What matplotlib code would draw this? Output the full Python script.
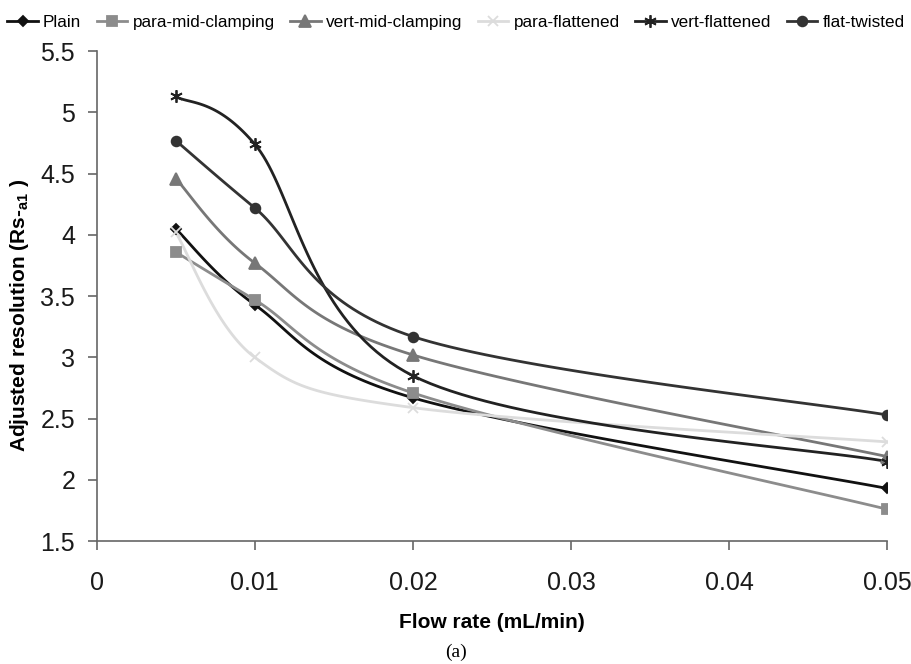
import numpy as np
import matplotlib.pyplot as plt

# flow rate (mL/min) and adjusted resolution per column type
flow = [0.005, 0.01, 0.02, 0.05]
plain = [4.05, 3.43, 2.67, 1.93]
para_mid = [3.86, 3.47, 2.71, 1.76]
vert_mid = [4.46, 3.77, 3.02, 2.19]
para_flat = [4.02, 3.00, 2.59, 2.31]
vert_flat = [5.13, 4.74, 2.85, 2.15]
flat_twisted = [4.77, 4.22, 3.17, 2.53]

names = ['Plain', 'para-mid-clamping', 'vert-mid-clamping',
         'para-flattened', 'vert-flattened', 'flat-twisted']
series = [plain, para_mid, vert_mid, para_flat, vert_flat, flat_twisted]
colors = ['#111111', '#8c8c8c', '#777777', '#dcdcdc', '#222222', '#333333']
markers = ['D', 's', '^', 'x', (6, 2, 0), 'o']
msizes = [5, 7, 8, 7, 9, 7]

XMAX, YMIN, YMAX = 0.05, 1.5, 5.5
W, H = 790.0, 489.0   # plot area in pixels, smoothing done in screen space


def smooth(xs, ys, n=40):
    # excel-like bezier smoothing
    p = np.column_stack([np.array(xs) / XMAX * W, (np.array(ys) - YMIN) / (YMAX - YMIN) * H])
    pts = np.vstack([p[0], p, p[-1]])
    out = []
    t = np.linspace(0, 1, n)[:, None]
    for i in range(1, len(pts) - 2):
        p0, p1, p2, p3 = pts[i - 1], pts[i], pts[i + 1], pts[i + 2]
        c1 = p1 + (p2 - p0) / 6
        c2 = p2 - (p3 - p1) / 6
        seg = (1 - t) ** 3 * p1 + 3 * (1 - t) ** 2 * t * c1 + 3 * (1 - t) * t ** 2 * c2 + t ** 3 * p2
        out.append(seg)
    c = np.vstack(out)
    return c[:, 0] / W * XMAX, c[:, 1] / H * (YMAX - YMIN) + YMIN


plt.rcParams['font.family'] = ['Liberation Sans', 'DejaVu Sans']

fig = plt.figure(figsize=(9.12, 6.64), dpi=100)
ax = fig.add_axes([0.106, 0.185, 0.867, 0.738])

handles = []
for name, ys, c, m, ms in zip(names, series, colors, markers, msizes):
    sx, sy = smooth(flow, ys)
    ax.plot(sx, sy, color=c, lw=2.0, zorder=2)
    ax.plot(flow, ys, ls='none', marker=m, color=c, ms=ms, mew=1.3, zorder=3)
    h, = ax.plot([], [], color=c, lw=2.0, marker=m, ms=ms, mew=1.3)
    handles.append(h)

ax.set_xlim(0, XMAX)
ax.set_ylim(YMIN, YMAX)
ax.set_xticks([0, 0.01, 0.02, 0.03, 0.04, 0.05])
ax.set_xticklabels(['0', '0.01', '0.02', '0.03', '0.04', '0.05'])
ax.set_yticks(np.arange(1.5, 5.51, 0.5))
ax.set_yticklabels(['1.5', '2', '2.5', '3', '3.5', '4', '4.5', '5', '5.5'])
ax.tick_params(labelsize=18, colors='#666666', labelcolor='#1a1a1a', length=6.5, width=1.2)
ax.tick_params(axis='x', pad=15)
ax.tick_params(axis='y', pad=9)
for s in ['top', 'right']:
    ax.spines[s].set_visible(False)
for s in ['left', 'bottom']:
    ax.spines[s].set_color('#666666')
    ax.spines[s].set_linewidth(1.2)

ax.set_xlabel('Flow rate (mL/min)', fontsize=15, fontweight='bold')
ax.xaxis.set_label_coords(0.5, -0.147)
ax.set_ylabel(r'Adjusted resolution (Rs-$_{\mathregular{a1}}$ )', fontsize=15,
              fontweight='bold')
ax.yaxis.set_label_coords(-0.083, 0.46)

fig.legend(handles, names, loc='upper center', bbox_to_anchor=(0.5, 1.0), ncol=6,
           frameon=False, fontsize=12.3, handlelength=1.8, handletextpad=0.3,
           columnspacing=0.9)

fig.text(0.5, 0.004, '(a)', ha='center', va='bottom', fontsize=14, family='Liberation Serif')

fig.savefig('out.png', dpi=100)
